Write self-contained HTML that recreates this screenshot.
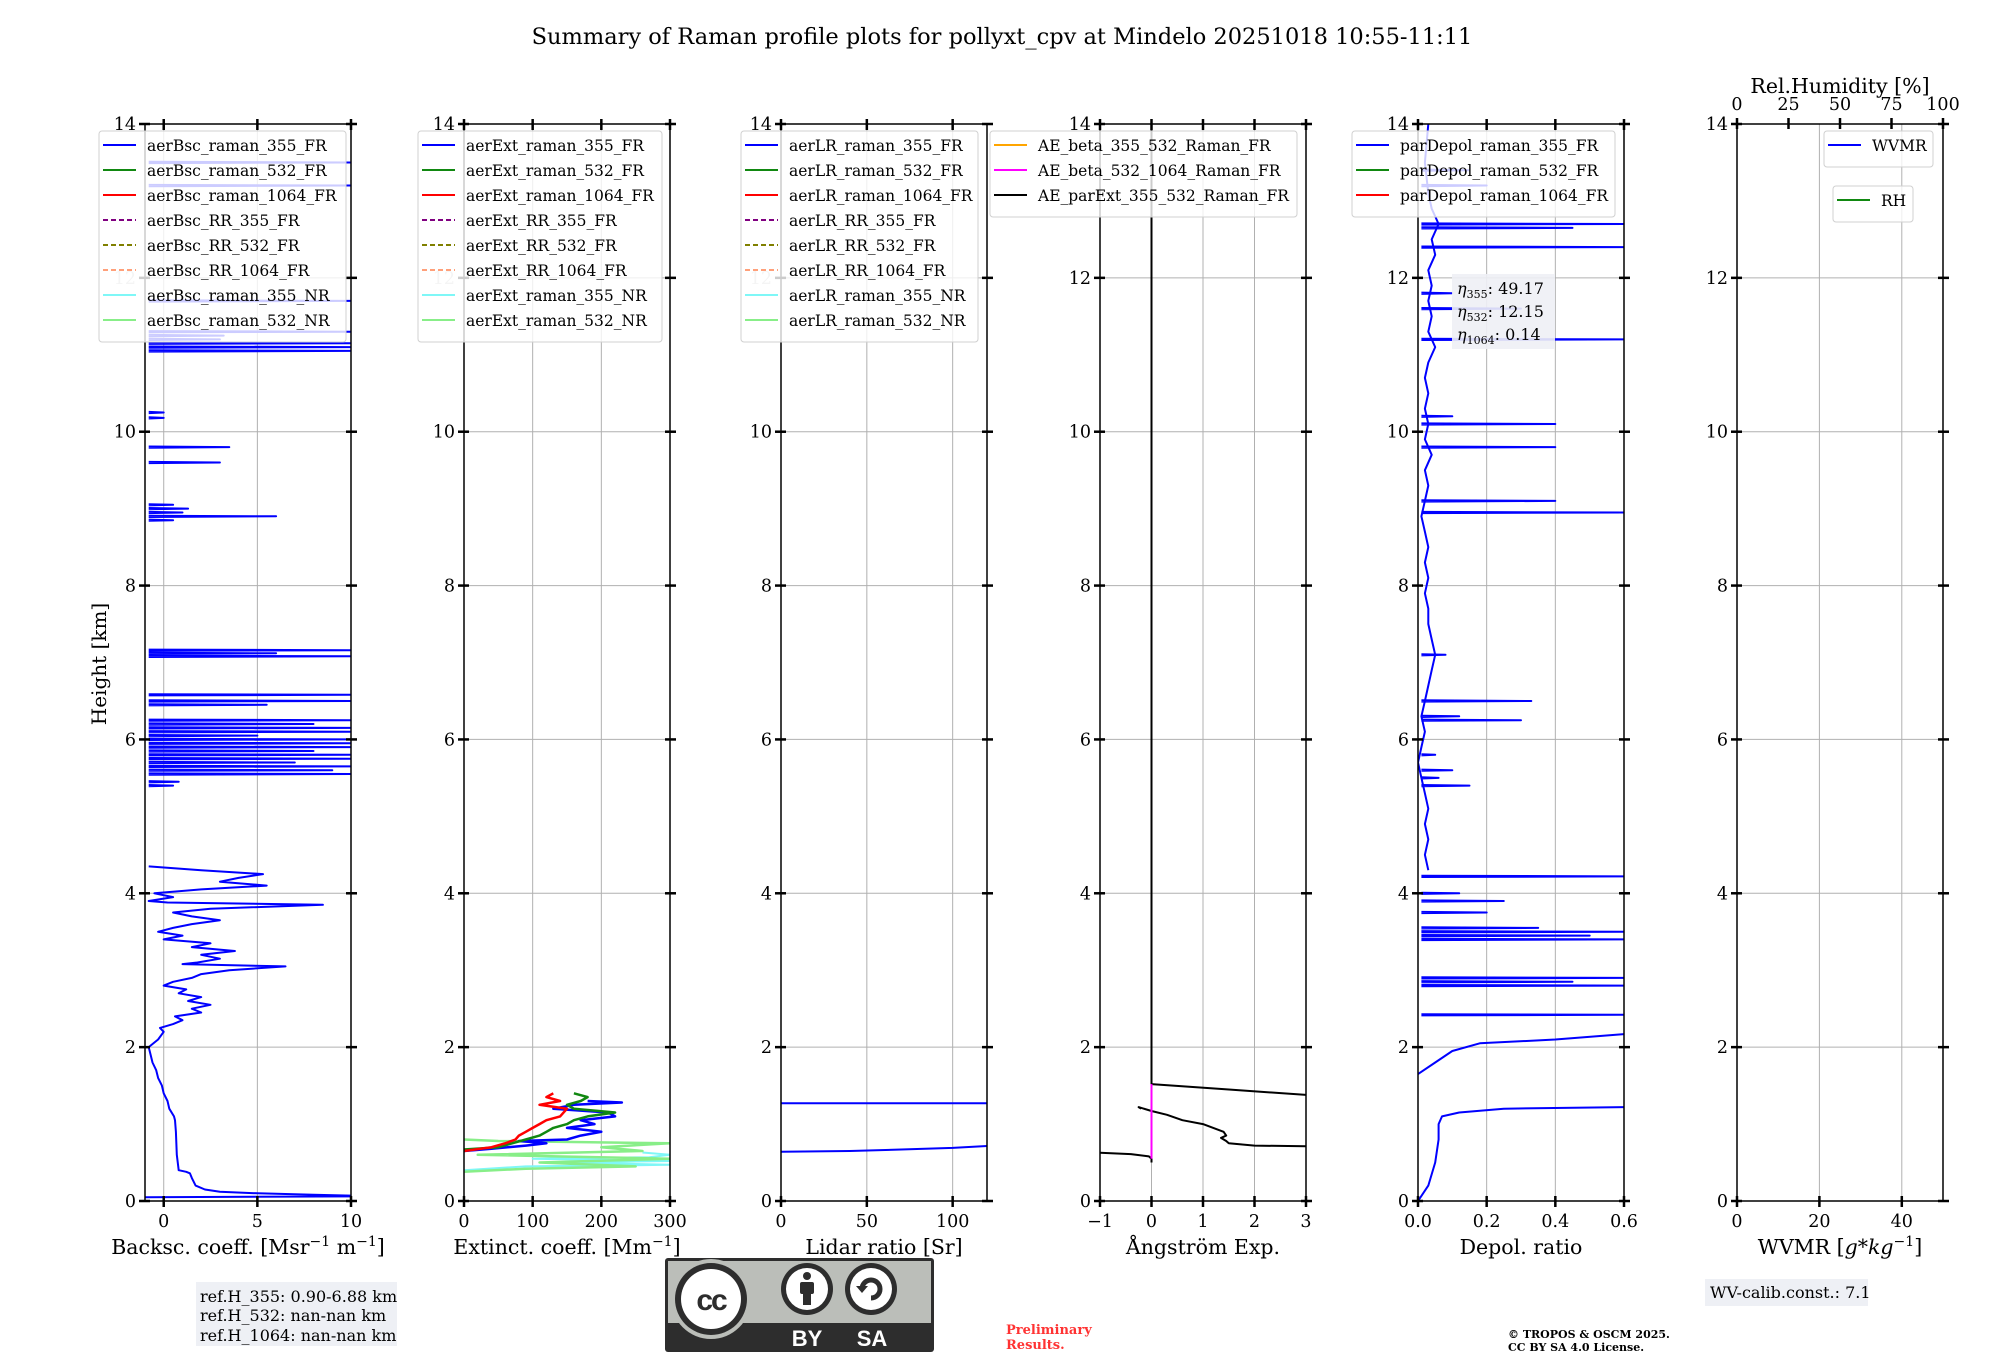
<!DOCTYPE html>
<html><head><meta charset="utf-8"><style>
html,body{margin:0;padding:0;background:#fff;}
svg{display:block;font-family:"DejaVu Serif","Liberation Serif",serif;}
</style></head><body>
<svg id="fig" xmlns="http://www.w3.org/2000/svg" width="2000" height="1360" viewBox="0 0 2000 1360">
<rect x="0" y="0" width="2000" height="1360" fill="#fff"/>
<text x="1002" y="44" font-size="22.5" text-anchor="middle">Summary of Raman profile plots for pollyxt_cpv at Mindelo 20251018 10:55-11:11</text>
<g id="plots"></g>
<text transform="translate(106,664) rotate(-90)" font-size="20" text-anchor="middle">Height [km]</text>
<g>
<rect x="196" y="1282" width="201" height="64" fill="#eef0f5"/>
<text x="200" y="1302" font-size="16">ref.H_355: 0.90-6.88 km</text>
<text x="200" y="1321" font-size="16">ref.H_532: nan-nan km</text>
<text x="200" y="1341" font-size="16">ref.H_1064: nan-nan km</text>
</g>
<g>
<rect x="1705" y="1279" width="163" height="27" fill="#eef0f5"/>
<text x="1710" y="1298" font-size="16">WV-calib.const.: 7.1</text>
</g>
<g>
<rect x="665" y="1258" width="269" height="94" rx="3" fill="#2d2d2d"/>
<rect x="668" y="1261" width="263" height="62" fill="#bbbeb9"/>
<circle cx="711" cy="1299" r="40" fill="#bbbeb9"/>
<circle cx="711" cy="1299" r="36" fill="#2d2d2d"/>
<circle cx="711" cy="1299" r="30" fill="#fff"/>
<text x="711" y="1310" font-family="Liberation Sans,sans-serif" font-weight="bold" font-size="30" text-anchor="middle" fill="#2d2d2d" letter-spacing="-2">cc</text>
<circle cx="807" cy="1289" r="26" fill="#2d2d2d"/>
<circle cx="807" cy="1289" r="21" fill="#fff"/>
<circle cx="807" cy="1276" r="4" fill="#2d2d2d"/>
<rect x="800" y="1282" width="14" height="12" rx="2" fill="#2d2d2d"/>
<rect x="803" y="1292" width="8" height="13" fill="#2d2d2d"/>
<circle cx="871" cy="1289" r="26" fill="#2d2d2d"/>
<circle cx="871" cy="1289" r="21" fill="#fff"/>
<path d="M862 1289 A9 9 0 1 1 871 1298" fill="none" stroke="#2d2d2d" stroke-width="5"/>
<path d="M856 1286 L868 1286 L862 1293 Z" fill="#2d2d2d"/>
<text x="807" y="1346" font-family="Liberation Sans,sans-serif" font-weight="bold" font-size="22" text-anchor="middle" fill="#fff">BY</text>
<text x="872" y="1346" font-family="Liberation Sans,sans-serif" font-weight="bold" font-size="22" text-anchor="middle" fill="#fff">SA</text>
</g>
<text x="1006" y="1334" font-size="13" font-weight="bold" fill="#ff3333"><tspan x="1006">Preliminary</tspan><tspan x="1006" dy="15">Results.</tspan></text>
<text x="1508" y="1338" font-size="11" font-weight="bold"><tspan x="1508">© TROPOS &amp; OSCM 2025.</tspan><tspan x="1508" dy="13">CC BY SA 4.0 License.</tspan></text>
</svg>
<script>
const heightTicks = [0,2,4,6,8,10,12,14];
const bscTicks = [0,5,10];
const extTicks = [0,100,200,300];
const lrTicks = [0,50,100];
const aeTicks = [-1,0,1,2,3];
const depolTicks = [0.0,0.2,0.4,0.6];
const depolTickLabels = ['0.0','0.2','0.4','0.6'];
const wvTicks = [0,20,40];
const rhTicks = [0,25,50,75,100];

const bsc355Profile = [[0.05,-1],[0.06,10],[0.07,10],[0.08,8],[0.1,5],[0.12,3],[0.15,2.2],[0.2,1.7],[0.3,1.5],[0.36,1.4],[0.38,1.2],[0.4,0.8],[0.6,0.7],[0.9,0.65],[1.05,0.6],[1.1,0.55],[1.2,0.3],[1.3,0.2],[1.4,0.0],[1.5,-0.1],[1.6,-0.3],[1.7,-0.4],[1.8,-0.6],[1.9,-0.7],[2.0,-0.8],[2.1,-0.3],[2.2,0.0],[2.25,-0.2],[2.3,0.5],[2.35,1.0],[2.4,0.6],[2.45,2.0],[2.5,1.5],[2.55,2.5],[2.6,1.3],[2.65,2.0],[2.7,0.8],[2.75,1.2],[2.8,0.0],[2.85,0.5],[2.9,1.5],[2.95,2.0],[3.0,3.5],[3.05,6.5],[3.08,1.0],[3.1,1.8],[3.15,3.0],[3.2,2.0],[3.25,3.8],[3.3,1.5],[3.35,2.5],[3.4,0.0],[3.45,1.0],[3.5,-0.3],[3.55,0.5],[3.6,1.5],[3.65,3.0],[3.7,1.5],[3.75,0.5],[3.8,2.5],[3.85,8.5],[3.88,0.2],[3.9,-0.8],[3.95,0.5],[4.0,-0.5],[4.05,2.0],[4.1,5.5],[4.15,3.0],[4.2,4.0],[4.25,5.3],[4.3,2.0],[4.35,-0.8]];
const bsc355SpikeHeights = [5.4,5.45,5.55,5.6,5.65,5.7,5.75,5.8,5.85,5.9,5.95,6.0,6.05,6.1,6.15,6.2,6.25,6.45,6.5,6.58,7.08,7.12,7.16,8.85,8.9,8.95,9.0,9.05,9.6,9.8,10.18,10.25,11.05,11.1,11.15,11.2,11.25,11.3,11.7,13.2,13.5];
const bsc355SpikeValues = [0.5,0.8,10,9,10,7,10,10,8,10,10,10,5,10,10,8,10,5.5,10,10,10,6,10,0.5,6,1,1.3,0.5,3,3.5,0,0,10,10,10,3,3.2,10,10,10,10];

const ext355 = [[0.65,0],[0.68,40],[0.72,90],[0.75,120],[0.78,80],[0.8,150],[0.85,170],[0.9,200],[0.95,150],[1.0,190],[1.05,170],[1.1,220],[1.15,210],[1.2,130],[1.25,160],[1.28,230],[1.3,180]];
const ext532 = [[0.67,0],[0.7,50],[0.75,70],[0.8,90],[0.85,110],[0.9,120],[0.95,130],[1.0,150],[1.05,160],[1.1,180],[1.15,220],[1.2,160],[1.25,150],[1.3,170],[1.35,180],[1.4,160]];
const ext1064 = [[0.65,0],[0.7,40],[0.75,60],[0.8,75],[0.85,80],[0.9,90],[0.95,100],[1.0,110],[1.05,120],[1.1,140],[1.2,150],[1.25,110],[1.3,140],[1.35,120],[1.4,130]];
const ext355NR = [[0.4,0],[0.45,90],[0.47,300],[0.5,150],[0.52,300],[0.55,100],[0.57,270],[0.6,300],[0.63,260]];
const ext532NR = [[0.38,0],[0.42,90],[0.45,250],[0.5,110],[0.55,300],[0.6,20],[0.65,260],[0.7,200],[0.75,300],[0.78,50],[0.8,0]];

const lr355 = [[0.64,0],[0.65,40],[0.67,70],[0.69,100],[0.72,125],null,[1.27,0],[1.27,125]];

const aeParExt = [[14,0],[1.52,0],[1.45,1.5],[1.37,3.2],null,[1.2,-0.2],[1.22,-0.25],[1.17,0],[1.12,0.3],[1.05,0.6],[1.0,1.0],[0.95,1.2],[0.9,1.4],[0.85,1.45],[0.82,1.35],[0.78,1.45],[0.75,1.5],[0.72,2.0],[0.71,3.2],null,[0.5,0],[0.55,0],[0.58,-0.05],[0.61,-0.4],[0.63,-1.1]];
const aeBeta532 = [[0.55,0],[1.52,0]];

const depolBase = [[0,0],[0.2,0.03],[0.5,0.05],[0.8,0.06],[1.0,0.06],[1.1,0.07],[1.15,0.12],[1.2,0.25],[1.22,0.6],null,[1.65,0],[1.8,0.05],[1.95,0.1],[2.05,0.18],[2.1,0.4],[2.17,0.6],null,[4.3,0.03],[4.5,0.02],[4.7,0.03],[4.9,0.02],[5.1,0.03],[5.3,0.02],[5.5,0.01],[5.7,0.0],[5.9,0.01],[6.1,0.02],[6.3,0.01],[6.5,0.02],[6.7,0.03],[6.9,0.04],[7.1,0.05],[7.3,0.04],[7.5,0.03],[7.7,0.03],[7.9,0.02],[8.1,0.03],[8.3,0.02],[8.5,0.03],[8.7,0.02],[8.9,0.01],[9.1,0.02],[9.3,0.03],[9.5,0.02],[9.7,0.04],[9.9,0.02],[10.1,0.03],[10.3,0.02],[10.5,0.03],[10.7,0.02],[10.9,0.03],[11.1,0.05],[11.3,0.03],[11.5,0.04],[11.7,0.03],[11.9,0.04],[12.1,0.03],[12.3,0.05],[12.5,0.04],[12.7,0.06],[12.9,0.04],[13.1,0.03],[13.5,0.02],[14,0.03]];
const depolSpikeHeights = [2.42,2.8,2.85,2.9,3.4,3.45,3.5,3.55,3.75,3.9,4.0,4.22,5.4,5.5,5.6,5.8,6.25,6.3,6.5,7.1,8.95,9.1,9.8,10.1,10.2,11.2,11.6,11.8,12.4,12.65,12.7,13.2,13.4];
const depolSpikeValues = [0.6,0.6,0.45,0.6,0.6,0.5,0.6,0.35,0.2,0.25,0.12,0.6,0.15,0.06,0.1,0.05,0.3,0.12,0.33,0.08,0.6,0.4,0.4,0.4,0.1,0.6,0.3,0.1,0.6,0.45,0.6,0.2,0.15];

const NS='http://www.w3.org/2000/svg';
const TOP=124, BOT=1201, W=206, HMAX=14;
const panels=[
 {id:'bsc',left:145,xmin:-1,xmax:10,ticks:bscTicks},
 {id:'ext',left:464,xmin:0,xmax:300,ticks:extTicks},
 {id:'lr',left:781,xmin:0,xmax:120,ticks:lrTicks},
 {id:'ae',left:1100,xmin:-1,xmax:3,ticks:aeTicks},
 {id:'depol',left:1418,xmin:0,xmax:0.6,ticks:depolTicks,labels:depolTickLabels},
 {id:'wv',left:1737,xmin:0,xmax:50,ticks:wvTicks}
];
const root=document.getElementById('plots');
function el(tag,attrs,parent){const e=document.createElementNS(NS,tag);for(const k in attrs)e.setAttribute(k,attrs[k]);(parent||root).appendChild(e);return e;}
function Y(h){return BOT-(h/HMAX)*(BOT-TOP);}
function X(p,v){return p.left+(v-p.xmin)/(p.xmax-p.xmin)*W;}
function fmt(v){return v<0?'\u2212'+Math.abs(v):String(v);}
function pathFrom(p,pairs){let d='',pen=false;for(const q of pairs){if(q===null){pen=false;continue;}d+=(pen?'L':'M')+X(p,q[1]).toFixed(1)+' '+Y(q[0]).toFixed(1)+' ';pen=true;}return d;}
function spikePath(p,hs,vs,base){let d='';for(let i=0;i<hs.length;i++){d+='M'+X(p,base).toFixed(1)+' '+Y(hs[i]-0.008).toFixed(1)+' L'+X(p,vs[i]).toFixed(1)+' '+Y(hs[i]).toFixed(1)+' L'+X(p,base).toFixed(1)+' '+Y(hs[i]+0.008).toFixed(1)+' ';}return d;}

panels.forEach((p,i)=>{
  const g=el('g',{});
  
  
  p.g=g;
  const cp=el('clipPath',{id:'clip'+i},g);
  el('rect',{x:p.left,y:TOP,width:W,height:BOT-TOP},cp);
  heightTicks.forEach(h=>{if(h>0&&h<14){const ln=el('line',{x1:p.left,x2:p.left+W,y1:Y(h),y2:Y(h),stroke:'#b0b0b0','stroke-width':1},g);}});
  p.ticks.forEach(v=>{const x=X(p,v);if(x>p.left+1&&x<p.left+W-1){const ln=el('line',{x1:x,x2:x,y1:TOP,y2:BOT,stroke:'#b0b0b0','stroke-width':1},g);}});
  p.clip='url(#clip'+i+')';
});

function series(p,d,color,w,name,dash){
  const e=el('path',{d:d,fill:'none',stroke:color,'stroke-width':w,'clip-path':p.clip,'stroke-linejoin':'round'},p.g);
  if(dash)e.setAttribute('stroke-dasharray',dash);
  
  
}
const P=panels;
series(P[0],pathFrom(P[0],bsc355Profile),'#0000ff',2,'bsc-355-fr-line');
series(P[0],spikePath(P[0],bsc355SpikeHeights,bsc355SpikeValues,-0.8),'#0000ff',2,'bsc-355-fr-spikes');
series(P[1],pathFrom(P[1],ext355NR),'#7ff7f7',2,'ext-355-nr-line');
series(P[1],pathFrom(P[1],ext532NR),'#88ee88',2.5,'ext-532-nr-line');
series(P[1],pathFrom(P[1],ext355),'#0000ff',2.5,'ext-355-fr-line');
series(P[1],pathFrom(P[1],ext532),'#118811',2.5,'ext-532-fr-line');
series(P[1],pathFrom(P[1],ext1064),'#ff0000',2.5,'ext-1064-fr-line');
series(P[2],pathFrom(P[2],lr355),'#0000ff',2,'lr-355-fr-line');
series(P[3],pathFrom(P[3],aeParExt),'#000000',2,'ae-parext-355-532-line');
series(P[3],pathFrom(P[3],aeBeta532),'#ff00ff',2,'ae-beta-532-1064-line');
series(P[4],pathFrom(P[4],depolBase),'#0000ff',2,'pardepol-355-line');
series(P[4],spikePath(P[4],depolSpikeHeights,depolSpikeValues,0.01),'#0000ff',2,'pardepol-355-spikes');

const xlabels=[
 ['Backsc. coeff. [Msr','\u22121',' m','\u22121',']'],
 ['Extinct. coeff. [Mm','\u22121',']'],
 ['Lidar ratio [Sr]'],
 ['Ångström Exp.'],
 ['Depol. ratio'],
 ['WVMR [','g*kg','\u22121',']']
];
panels.forEach((p,i)=>{
  const g=p.g;
  const fr=el('rect',{x:p.left,y:TOP,width:W,height:BOT-TOP,fill:'none',stroke:'#000','stroke-width':1.5},g);
  
  
  heightTicks.forEach(h=>{
    el('line',{x1:p.left-6,x2:p.left+5,y1:Y(h),y2:Y(h),stroke:'#000','stroke-width':2.5},g);
    el('line',{x1:p.left+W-5,x2:p.left+W+6,y1:Y(h),y2:Y(h),stroke:'#000','stroke-width':2.5},g);
    const t=el('text',{x:p.left-9,y:Y(h)+6,'font-size':17.5,'text-anchor':'end',fill:(h===12&&i<3)?'#c8c8c8':'#000'},g);
    t.textContent=h;
    
    
  });
  p.ticks.forEach((v,k)=>{
    const x=X(p,v);
    el('line',{x1:x,x2:x,y1:BOT-5,y2:BOT+6,stroke:'#000','stroke-width':2.5},g);
    if(i<5) el('line',{x1:x,x2:x,y1:TOP-5,y2:TOP+6,stroke:'#000','stroke-width':2.5},g);
    const t=el('text',{x:x,y:BOT+26,'font-size':17.5,'text-anchor':'middle'},g);
    t.textContent=p.labels?p.labels[k]:fmt(v);
    
    
  });
  const xl=el('text',{x:p.left+W/2,y:1254,'font-size':20.5,'text-anchor':'middle'},g);
  
  
  xlabels[i].forEach(s=>{
    const ts=el('tspan',{},xl);
    if(s==='\u22121'){ts.setAttribute('baseline-shift','super');ts.setAttribute('font-size','14');}
    if(s==='g*kg'){ts.setAttribute('font-style','italic');}
    ts.textContent=s;
  });
});
(function(){
  const p=P[5];
  rhTicks.forEach(v=>{
    const x=p.left+v/100*W;
    el('line',{x1:x,x2:x,y1:TOP-6,y2:TOP+5,stroke:'#000','stroke-width':2.5},p.g);
    const t=el('text',{x:x,y:110,'font-size':17.5,'text-anchor':'middle'},p.g);
    t.textContent=v;
    
    
  });
  const t=el('text',{x:1840,y:93,'font-size':20.5,'text-anchor':'middle'},p.g);
  t.textContent='Rel.Humidity [%]';
  
  
})();

const legBsc=['aerBsc_raman_355_FR','aerBsc_raman_532_FR','aerBsc_raman_1064_FR','aerBsc_RR_355_FR','aerBsc_RR_532_FR','aerBsc_RR_1064_FR','aerBsc_raman_355_NR','aerBsc_raman_532_NR'];
const legExt=['aerExt_raman_355_FR','aerExt_raman_532_FR','aerExt_raman_1064_FR','aerExt_RR_355_FR','aerExt_RR_532_FR','aerExt_RR_1064_FR','aerExt_raman_355_NR','aerExt_raman_532_NR'];
const legLR=['aerLR_raman_355_FR','aerLR_raman_532_FR','aerLR_raman_1064_FR','aerLR_RR_355_FR','aerLR_RR_532_FR','aerLR_RR_1064_FR','aerLR_raman_355_NR','aerLR_raman_532_NR'];
const legAE=['AE_beta_355_532_Raman_FR','AE_beta_532_1064_Raman_FR','AE_parExt_355_532_Raman_FR'];
const legDepol=['parDepol_raman_355_FR','parDepol_raman_532_FR','parDepol_raman_1064_FR'];
const col8=['#0000ff','#118811','#ff0000','#800080','#808000','#ffa07a','#7ff7f7','#88ee88'];
const dash8=[null,null,null,'5,3','5,3','5,3',null,null];
const colAE=['#ffa500','#ff00ff','#000000'];
const colDep=['#0000ff','#118811','#ff0000'];
function legend(x,w,y,names,cols,dashes,name){
  const g=el('g',{});
  
  
  el('rect',{x:x,y:y,width:w,height:names.length*25+11,rx:3,fill:'#fff','fill-opacity':0.8,stroke:'#d0d0d0','stroke-width':1},g);
  names.forEach((n,k)=>{
    const cy=y+14+k*25;
    const ln=el('line',{x1:x+4,x2:x+37,y1:cy,y2:cy,stroke:cols[k],'stroke-width':2},g);
    if(dashes&&dashes[k])ln.setAttribute('stroke-dasharray',dashes[k]);
    const t=el('text',{x:x+48,y:cy+6,'font-size':15.5},g);
    t.textContent=n;
    
    
  });
}
legend(99,247,131,legBsc,col8,dash8,'bsc-legend');
legend(418,244,131,legExt,col8,dash8,'ext-legend');
legend(741,237,131,legLR,col8,dash8,'lr-legend');
legend(990,307,131,legAE,colAE,null,'ae-legend');
legend(1352,263,131,legDepol,colDep,null,'depol-legend');
legend(1824,109,131,['WVMR'],['#0000ff'],null,'wvmr-legend');
legend(1833,80,186,['RH'],['#118811'],null,'rh-legend');

(function(){
  const g=el('g',{});
  
  
  el('rect',{x:1452,y:274,width:103,height:75,fill:'#eef0f5','fill-opacity':0.9},g);
  const rows=[['355','49.17'],['532','12.15'],['1064','0.14']];
  rows.forEach((r,k)=>{
    const t=el('text',{x:1457,y:294+k*23,'font-size':16},g);
    const a=el('tspan',{'font-style':'italic'},t);a.textContent='η';
    const b=el('tspan',{'font-size':11,dy:4},t);b.textContent=r[0];
    const c=el('tspan',{dy:-4},t);c.textContent=': '+r[1];
  });
})();
</script>
</body></html>
